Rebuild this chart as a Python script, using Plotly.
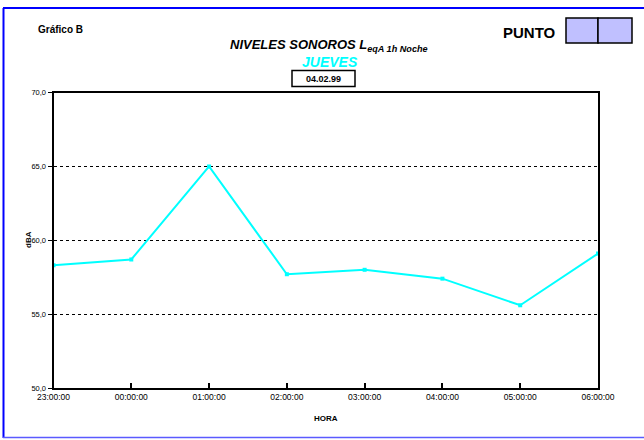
import plotly.graph_objects as go

W, H = 644, 440

horas = ["23:00:00", "00:00:00", "01:00:00", "02:00:00",
         "03:00:00", "04:00:00", "05:00:00", "06:00:00"]
dba = [58.3, 58.7, 65.0, 57.7, 58.0, 57.4, 55.6, 59.1]
y_ticks = [50, 55, 60, 65, 70]

FONT = "Liberation Sans, Arial, sans-serif"

def px(x):
    return x / W

def py(y):
    return 1 - y / H

fig = go.Figure()
fig.add_trace(go.Scatter(
    x=horas, y=dba, mode="lines+markers",
    line=dict(color="#00ffff", width=2),
    marker=dict(color="#00ffff", size=4, symbol="square"),
    showlegend=False, hoverinfo="skip"))

fig.update_layout(
    width=W, height=H,
    margin=dict(l=0, r=0, t=0, b=0, autoexpand=False),
    paper_bgcolor="white", plot_bgcolor="white",
    separators=",.",
    font=dict(family=FONT, color="black"),
    xaxis=dict(
        domain=[px(53.5), px(598)], automargin=False,
        type="category", range=[0, len(horas) - 1],
        showline=True, linecolor="black", linewidth=2, mirror=True,
        ticks="inside", ticklen=5, tickwidth=2, tickcolor="black",
        tickfont=dict(size=8.5, family=FONT),
        showgrid=False, zeroline=False,
    ),
    yaxis=dict(
        domain=[py(388), py(92.5)], automargin=False,
        range=[50, 70], tickvals=y_ticks, tickformat=".1f",
        showline=True, linecolor="black", linewidth=2, mirror=True,
        ticks="outside", ticklen=4, tickwidth=1, tickcolor="black",
        tickfont=dict(size=7.5, family=FONT),
        showgrid=True, gridcolor="black", gridwidth=1, griddash="dot",
        zeroline=False,
    ),
)

ann = [
    dict(x=px(60), y=py(30), text="<b>Gráfico B</b>", font=dict(size=10)),
    dict(x=px(329), y=py(45),
         text="<b><i>NIVELES SONOROS L<sub>eqA 1h Noche</sub></i></b>",
         font=dict(size=13)),
    dict(x=px(330), y=py(62), text="<b><i>JUEVES</i></b>",
         font=dict(size=14, color="#00ffff")),
    dict(x=px(323.5), y=py(78.5), text="<b>04.02.99</b>", font=dict(size=9)),
    dict(x=px(529), y=py(33), text="<b>PUNTO</b>", font=dict(size=15)),
    dict(x=px(326), y=py(418), text="<b>HORA</b>", font=dict(size=8)),
    dict(x=px(29), y=py(240), text="<b>dBA</b>", font=dict(size=8), textangle=-90),
]
for a in ann:
    fig.add_annotation(xref="paper", yref="paper", showarrow=False,
                       xanchor="center", yanchor="middle", **a)

shapes = [
    # outer frame
    dict(type="line", x0=px(3), x1=px(644), y0=py(8), y1=py(8),
         line=dict(color="#0000ff", width=2)),
    dict(type="line", x0=px(3.5), x1=px(3.5), y0=py(8), y1=py(438),
         line=dict(color="#0000ff", width=2)),
    dict(type="line", x0=px(3), x1=px(644), y0=py(437.5), y1=py(437.5),
         line=dict(color="#5a5aff", width=1.5)),
    # date box
    dict(type="rect", x0=px(292), x1=px(355), y0=py(70.5), y1=py(86.5),
         line=dict(color="black", width=1.5), fillcolor="rgba(0,0,0,0)"),
    # PUNTO boxes
    dict(type="rect", x0=px(566), x1=px(598), y0=py(18), y1=py(43),
         line=dict(color="black", width=1.5), fillcolor="#c0c0ff"),
    dict(type="rect", x0=px(598), x1=px(632), y0=py(18), y1=py(43),
         line=dict(color="black", width=1.5), fillcolor="#c0c0ff"),
]
for s in shapes:
    fig.add_shape(xref="paper", yref="paper", **s)

fig.write_html("out.html")
